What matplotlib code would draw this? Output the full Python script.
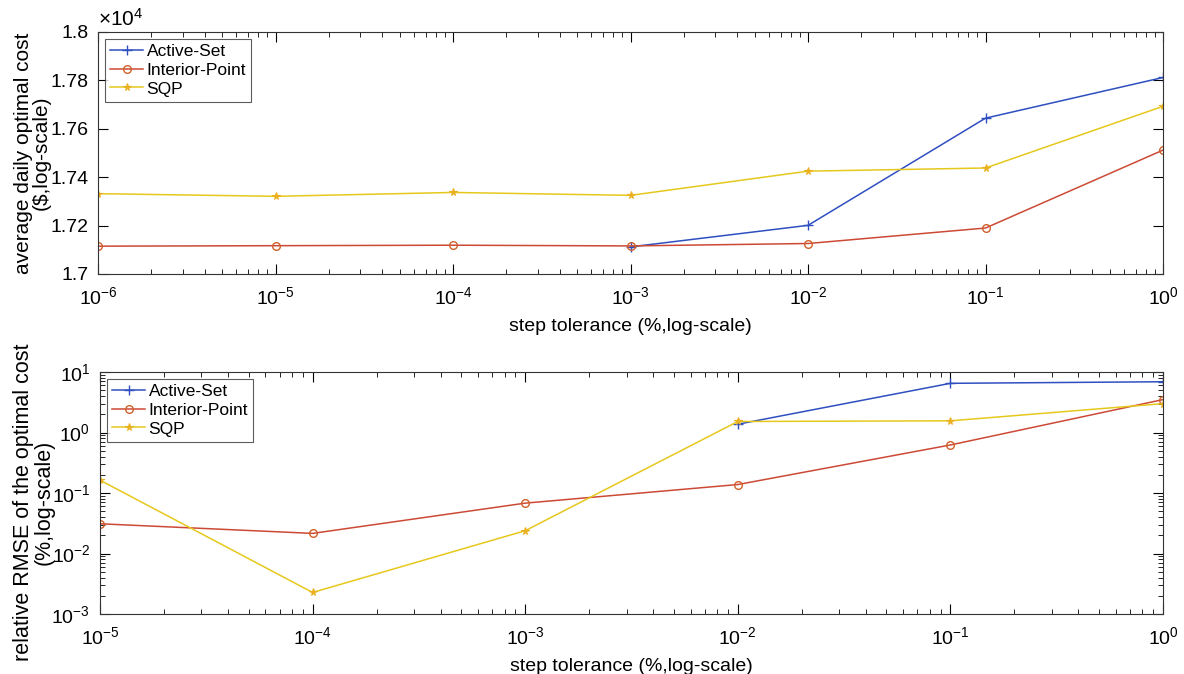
import numpy as np
import matplotlib
matplotlib.use("Agg")
import matplotlib.pyplot as plt
from matplotlib.ticker import FixedLocator, FuncFormatter, LogLocator, NullFormatter, LogFormatterSciNotation

plt.rcParams['font.family'] = ['Liberation Sans', 'DejaVu Sans']
plt.rcParams['mathtext.default'] = 'regular'

# ---- data ----
tol_top = [1e-6, 1e-5, 1e-4, 1e-3, 1e-2, 1e-1, 1e0]
cost_active = [np.nan, np.nan, np.nan, 17112, 17201, 17644, 17812]
cost_interior = [17115, 17117, 17119, 17116, 17126, 17190, 17512]
cost_sqp = [17332, 17321, 17337, 17325, 17425, 17438, 17693]

tol_bot = [1e-5, 1e-4, 1e-3, 1e-2, 1e-1, 1e0]
rmse_active = [np.nan, np.nan, np.nan, 1.37, 6.5, 6.9]
rmse_interior = [0.031, 0.0215, 0.068, 0.138, 0.622, 3.5]
rmse_sqp = [0.163, 0.00227, 0.0238, 1.52, 1.56, 3.0]

series_names = ['Active-Set', 'Interior-Point', 'SQP']
ytick_top = [1.70, 1.72, 1.74, 1.76, 1.78, 1.80]
ytick_bot = [1e-3, 1e-2, 1e-1, 1e0, 1e1]

c_blue = '#2f4fc0'
c_red = '#cc4a35'
c_yel = '#e6c81c'
c_yel_m = '#eab020'

W, H = 1184, 674
fig = plt.figure(figsize=(W/100, H/100), dpi=100)

def rect(l, r, t, b):
    return [l/W, 1 - b/H, (r-l)/W, (b-t)/H]

ax1 = fig.add_axes(rect(98, 1163, 32, 274))
ax2 = fig.add_axes(rect(100, 1163, 372, 614))

styles = [dict(color=c_blue, marker='+', ms=7, mew=1.0),
          dict(color=c_red, marker='o', ms=5.5, mfc='none', mec='#d0602a', mew=1.0),
          dict(color=c_yel, marker='*', ms=5.5, mew=0.8, mfc=c_yel_m, mec=c_yel_m)]

for ys, name, st in zip([cost_active, cost_interior, cost_sqp], series_names, styles):
    ax1.plot(tol_top, ys, lw=1.1, label=name, **st)
for ys, name, st in zip([rmse_active, rmse_interior, rmse_sqp], series_names, styles):
    ax2.plot(tol_bot, ys, lw=1.1, label=name, **st)

fs = 14
for ax, xt in ((ax1, tol_top), (ax2, tol_bot)):
    ax.set_xscale('log')
    ax.tick_params(which='both', direction='in', top=True, right=True, labelsize=fs)
    ax.tick_params(axis='x', pad=9)
    ax.tick_params(axis='y', pad=7)
    ax.tick_params(which='major', length=7, width=0.8)
    ax.tick_params(which='minor', length=3.5, width=0.6)
    ax.xaxis.set_major_locator(FixedLocator(xt))
    ax.xaxis.set_major_formatter(LogFormatterSciNotation())
    ax.xaxis.set_minor_locator(LogLocator(base=10, subs=np.arange(2, 10), numticks=20))
    ax.xaxis.set_minor_formatter(NullFormatter())
    for s in ax.spines.values():
        s.set_linewidth(0.8)
        s.set_color('#333333')
    ax.set_xlabel('step tolerance (%,log-scale)', fontsize=fs, labelpad=7)
    leg = ax.legend(loc='upper left', fontsize=12.5, frameon=True, fancybox=False,
                    edgecolor='#333333', handlelength=1.9, handletextpad=0.2,
                    borderpad=0.3, labelspacing=0.2, borderaxespad=0.4)
    leg.get_frame().set_linewidth(0.8)

ax1.set_xlim(1e-6, 1)
ax1.set_ylim(17000, 18000)
ax1.yaxis.set_major_locator(FixedLocator([v*1e4 for v in ytick_top]))
ax1.yaxis.set_major_formatter(FuncFormatter(lambda v, p: ('%g' % round(v/1e4, 4))))
ax1.text(0.0, 1.01, r'$\times10^{4}$', transform=ax1.transAxes, fontsize=15,
         ha='left', va='bottom')
ax1.set_ylabel('average daily optimal cost\n($,log-scale)', fontsize=15,
               linespacing=0.95)
ax1.yaxis.set_label_coords(-0.044, 0.5)

ax2.set_xlim(1e-5, 1)
ax2.set_yscale('log')
ax2.set_ylim(1e-3, 1e1)
ax2.yaxis.set_major_locator(FixedLocator(ytick_bot))
ax2.yaxis.set_major_formatter(LogFormatterSciNotation())
ax2.yaxis.set_minor_locator(LogLocator(base=10, subs=np.arange(2, 10), numticks=20))
ax2.yaxis.set_minor_formatter(NullFormatter())
ax2.set_ylabel('relative RMSE of the optimal cost\n(%,log-scale)', fontsize=15.5,
               linespacing=0.95)
ax2.yaxis.set_label_coords(-0.043, 0.46)

fig.savefig('out.png', dpi=100, facecolor='white')
